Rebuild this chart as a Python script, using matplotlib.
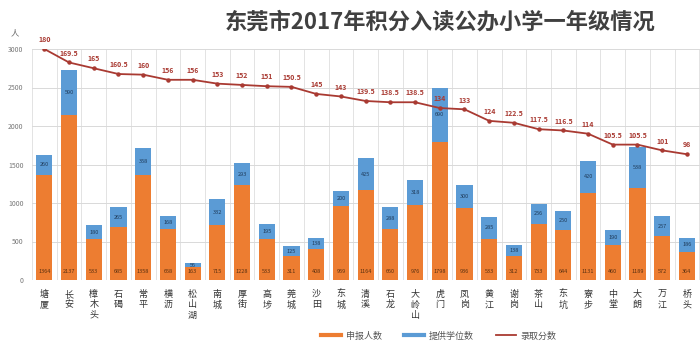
import matplotlib
matplotlib.use("Agg")
import matplotlib.pyplot as plt
from matplotlib.lines import Line2D
import numpy as np

plt.rcParams['font.family'] = ['Noto Sans CJK SC', 'DejaVu Sans']

categories = ["塘厦", "长安", "樟木头", "石碣", "常平", "横沥", "松山湖", "南城", "厚街",
              "高埗", "莞城", "沙田", "东城", "清溪", "石龙", "大岭山", "虎门", "凤岗",
              "黄江", "谢岗", "茶山", "东坑", "寮步", "中堂", "大朗", "万江", "桥头"]
applicants = [1364, 2137, 533, 685, 1358, 658, 163, 715, 1228, 533, 311, 408, 959, 1164,
              660, 976, 1798, 936, 533, 312, 733, 644, 1131, 460, 1189, 572, 364]
places = [260, 590, 180, 265, 358, 168, 56, 332, 293, 195, 125, 138, 200, 425,
          288, 318, 690, 300, 285, 138, 256, 250, 420, 190, 538, 257, 186]
scores = [180, 169.5, 165, 160.5, 160, 156, 156, 153, 152, 151, 150.5, 145, 143, 139.5,
          138.5, 138.5, 134, 133, 124, 122.5, 117.5, 116.5, 114, 105.5, 105.5, 101, 98]
yticks = [0, 500, 1000, 1500, 2000, 2500, 3000]

orange = '#ed7d31'
blue = '#5b9bd5'
red = '#a93a32'

fig = plt.figure(figsize=(7, 3.5), dpi=100)
ax = fig.add_axes([32/700, 0.2, 1 - 32/700, 0.86 - 0.2])
x = np.arange(len(categories))

ax.bar(x, applicants, width=0.65, color=orange, zorder=2)
ax.bar(x, places, width=0.65, bottom=applicants, color=blue, zorder=2)

for xi, a, p in zip(x, applicants, places):
    ax.text(xi, 115, str(a), ha='center', va='center', fontsize=4, color='#5a3010', zorder=3)
    ax.text(xi, a + p / 2, str(p), ha='center', va='center', fontsize=4, color='#1f3b5a', zorder=3)

ax.set_xlim(-0.5, 26.53)
ax.set_ylim(0, 3000)
ax.set_yticks(yticks)
ax.set_yticklabels([str(t) for t in yticks], fontsize=5, color='#777777')
ax.set_xticks(x)
ax.set_xticklabels(["\n".join(c) for c in categories], fontsize=6.5, color='#333333',
                   linespacing=1.2, va='top', fontweight='medium')
ax.tick_params(axis='both', length=0)
ax.tick_params(axis='x', pad=7)
ax.tick_params(axis='y', pad=6)
for s in ax.spines.values():
    s.set_visible(False)
ax.set_axisbelow(True)
ax.grid(axis='y', color='#d9d9d9', linewidth=0.7)
for b in np.arange(-0.5, len(categories) + 0.5, 1):
    ax.axvline(b, color='#e3e3e3', linewidth=0.7, zorder=0)

ax2 = ax.twinx()
ax2.set_ylim(0, 180)
ax2.plot(x, scores, color=red, linewidth=1.3, marker='o', markersize=2.2, zorder=4)
for xi, s in zip(x, scores):
    ax2.text(xi, s + 4.5, f"{s:g}", ha='center', va='bottom', fontsize=5, color=red,
             fontweight='bold', zorder=5)
ax2.set_yticks([])
for s in ax2.spines.values():
    s.set_visible(False)
ax2.set_xlim(-0.5, 26.53)

fig.text(15/700, 1 - 33/350, "人", fontsize=6, color='#666666', ha='center', va='center')
fig.text(440/700, 1 - 22/350, "东莞市2017年积分入读公办小学一年级情况", fontsize=16,
         fontweight='bold', color='#404040', ha='center', va='center')

handles = [Line2D([0], [0], color=orange, linewidth=3),
           Line2D([0], [0], color=blue, linewidth=3),
           Line2D([0], [0], color=red, linewidth=1.3)]
fig.legend(handles, ["申报人数", "提供学位数", "录取分数"], loc='center',
           bbox_to_anchor=(439/700, 1 - 336/350), ncol=3, frameon=False,
           fontsize=6.5, handlelength=2.2, columnspacing=2.5, handletextpad=0.5,
           labelcolor='#555555')

fig.savefig("out.png", dpi=100)
